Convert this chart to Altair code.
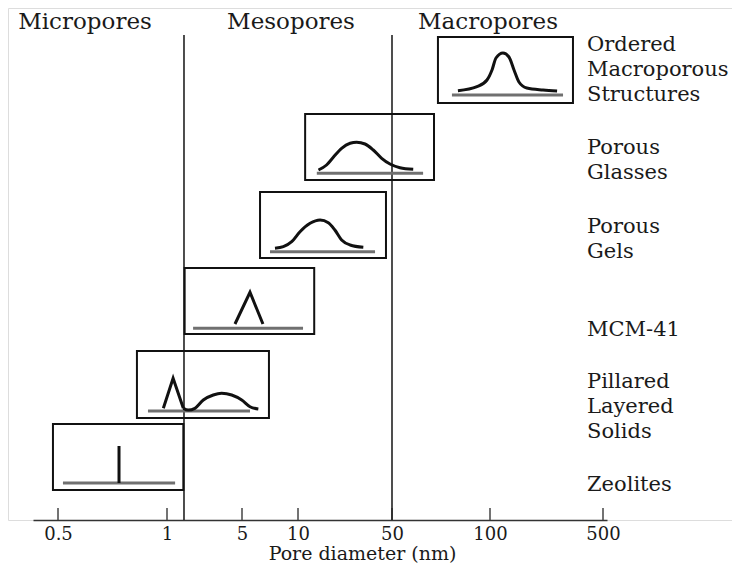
import altair as alt
import pandas as pd

# ---- axis (pore diameter, nm) ----
tick_values = [0.5, 1, 5, 10, 50, 100, 500]
scale_domain = [0.4, 0.5, 1, 5, 10, 50, 100, 500, 520]
scale_range = [25, 50, 159, 234, 290, 384, 482, 595, 599]

region_names = ["Micropores", "Mesopores", "Macropores"]
region_x_px = [77, 283, 480]
boundaries = [1.44, 50]

# ---- material panels (top to bottom) ----
materials = [["Ordered", "Macroporous", "Structures"], ["Porous", "Glasses"],
             ["Porous", "Gels"], ["MCM-41"], ["Pillared", "Layered", "Solids"], ["Zeolites"]]
label_y = [475, 372, 293, 190, 138, 35]
box_lo = [69.2, 11.3, 6.25, 1.46, 0.826, 0.478]
box_hi = [326, 67.3, 45.1, 13.2, 6.98, 1.42]
box_bottom = [417, 340, 262, 186, 102, 30]
box_top = [483, 406, 328, 252, 169, 96]
base_lo = [76.4, 13.8, 7.07, 1.75, 0.886, 0.516]
base_hi = [283, 62.3, 37.4, 10.9, 5.52, 1.19]
base_level = [425, 346.7, 268.3, 191.7, 109, 37]

# ---- distribution sketches: (diameter nm, height above baseline) ----
ordered_x = [79.7, 91.2, 97.9, 102.9, 108.9, 120.3, 131, 140.8, 151, 169, 213, 260]
ordered_h = [4.3, 8.3, 15, 25, 37, 42, 38, 25, 13, 7, 5, 4]
glasses_x = [14.2, 16.3, 18.3, 21.1, 24.4, 27.3, 31.5, 36.3, 41.9, 48.3, 52.9, 58.1]
glasses_h = [3.3, 8.3, 16, 25, 30, 31, 29.3, 23.3, 15, 9.3, 5.6, 4]
gels_x = [7.52, 8.34, 9.25, 10.35, 12.3, 14.6, 16.8, 18.8, 21.1, 24.4, 30.6]
gels_h = [3.4, 5, 10, 20, 28.4, 31.7, 29, 21.7, 11.7, 6.7, 4.4]
mcm_x = [4.30, 5.52, 6.48]
mcm_h = [4.3, 36, 4.3]
pill_spike_x = [0.977, 1.14, 1.42]
pill_spike_h = [2.7, 32.7, 2.7]
pill_hump_x = [1.42, 1.58, 1.82, 2.18, 2.70, 3.23, 4.01, 4.97, 5.52, 6.12]
pill_hump_h = [2.7, 1, 2.7, 11, 16, 17.7, 16, 11, 4.3, 2]
zeo_x = [0.737, 0.737]
zeo_h = [0, 37]

FONT = "DejaVu Serif"
INK = "#1a1a1a"

xs = alt.Scale(type="log", domain=scale_domain, range=scale_range, nice=False, zero=False)
ys = alt.Scale(domain=[0, 512], nice=False, zero=False)


def curve_rows(name, panel, xv, hv):
    return [{"curve": name, "i": i, "d": x, "y": base_level[panel] + h}
            for i, (x, h) in enumerate(zip(xv, hv))]


smooth = pd.DataFrame(curve_rows("ordered", 0, ordered_x, ordered_h)
                      + curve_rows("glasses", 1, glasses_x, glasses_h)
                      + curve_rows("gels", 2, gels_x, gels_h)
                      + curve_rows("hump", 4, pill_hump_x, pill_hump_h))
sharp = pd.DataFrame(curve_rows("mcm", 3, mcm_x, mcm_h)
                     + curve_rows("spike", 4, pill_spike_x, pill_spike_h)
                     + curve_rows("zeo", 5, zeo_x, zeo_h))

panels = pd.DataFrame({
    "lo": box_lo, "hi": box_hi, "bottom": box_bottom, "top": box_top,
    "blo": base_lo, "bhi": base_hi, "base": base_level,
    "label": materials, "ly": label_y,
})

ticks_df = pd.DataFrame({"v": tick_values, "y0": 0, "y1": 12})
bounds_df = pd.DataFrame({"v": boundaries, "y0": 0, "y1": 485})
regions_df = pd.DataFrame({"name": region_names, "px": region_x_px})

X = lambda f: alt.X(f, type="quantitative", scale=xs)
Y = lambda f: alt.Y(f, type="quantitative", scale=ys, axis=None)

axis_layer = alt.Chart(ticks_df).mark_rule(color="#444", strokeWidth=1.5).encode(
    x=alt.X("v:Q", scale=xs,
            axis=alt.Axis(values=tick_values, format="~g", grid=False, ticks=False,
                          domainColor="#333", domainWidth=1.5, labelPadding=5,
                          labelFont=FONT, labelFontSize=18, labelColor=INK,
                          labelFlush=False, labelBaseline="top",
                          title="Pore diameter (nm)", titleFont=FONT, titleFontSize=19,
                          titleFontWeight="normal", titleColor=INK,
                          titleX=354, titleY=33, titleBaseline="middle",
                          titleAlign="center", titleAnchor="start")),
    y=Y("y0:Q"), y2="y1:Q",
)

bound_layer = alt.Chart(bounds_df).mark_rule(color="#222", strokeWidth=1.6).encode(
    x=X("v"), y=Y("y0"), y2="y1:Q")

box_layer = alt.Chart(panels).mark_rect(fillOpacity=0, stroke="#111", strokeWidth=2).encode(
    x=X("lo"), x2="hi:Q", y=Y("bottom"), y2="top:Q")

base_layer = alt.Chart(panels).mark_rule(color="#707070", strokeWidth=3).encode(
    x=X("blo"), x2="bhi:Q", y=Y("base"))

smooth_layer = alt.Chart(smooth).mark_line(color="#111", strokeWidth=3,
                                           interpolate="monotone").encode(
    x=X("d"), y=Y("y"), detail="curve:N", order="i:Q")

sharp_layer = alt.Chart(sharp).mark_line(color="#111", strokeWidth=3).encode(
    x=X("d"), y=Y("y"), detail="curve:N", order="i:Q")

label_layer = alt.Chart(panels).mark_text(
    align="left", baseline="middle", font=FONT, fontSize=21, color=INK, lineHeight=25
).encode(x=alt.value(579), y=Y("ly"), text="label")

region_layer = alt.Chart(regions_df).mark_text(
    align="center", baseline="middle", font=FONT, fontSize=23, color=INK
).encode(x=alt.X("px:Q", scale=None), y=alt.value(14), text="name:N")

chart = alt.layer(
    axis_layer, bound_layer, box_layer, base_layer, smooth_layer, sharp_layer,
    label_layer, region_layer
).properties(
    width=724, height=512,
    autosize=alt.AutoSizeParams(type="none"),
    padding={"left": 0, "top": 0, "right": 0, "bottom": 45},
).configure_view(stroke=None).configure(background="white")

chart.save("out.html", embed_options={"renderer": "svg", "actions": False})
